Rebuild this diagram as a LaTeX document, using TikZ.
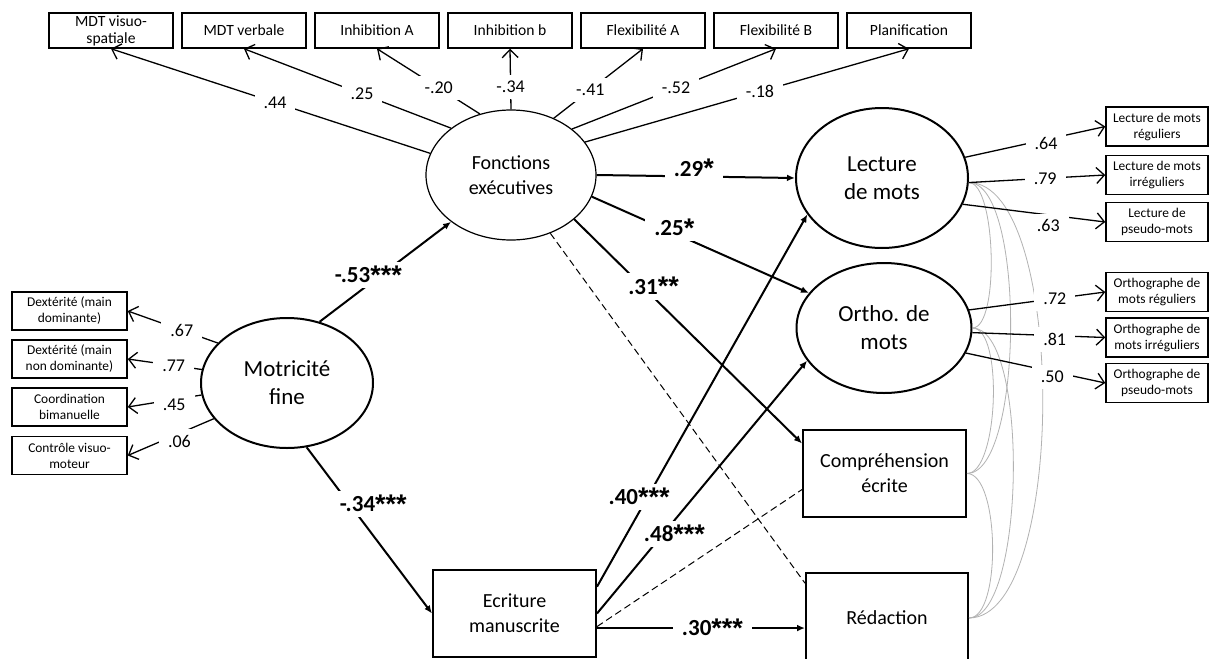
\documentclass[tikz,border=0pt]{standalone}
\usepackage{fontspec}
\setmainfont{Carlito}
\newfontfamily\astfont{Liberation Sans}
\usetikzlibrary{arrows.meta,shapes.geometric}
\newcommand\sigst[1]{\raisebox{-0.15ex}{\astfont\bfseries\fontsize{13.5}{13.5}\selectfont #1}}
\begin{document}
\begin{tikzpicture}[x=0.5pt,y=-0.5pt,
  every node/.style={inner sep=0pt},
  tbox/.style={draw, line width=0.75pt, minimum width=62pt, minimum height=17.5pt, align=center, font=\fontsize{7.8}{8.6}\selectfont},
  sbox/.style={draw, line width=0.75pt, minimum width=57.5pt, minimum height=19pt, align=center, font=\fontsize{6.7}{8}\selectfont},
  rbox/.style={draw, line width=0.75pt, minimum width=51pt, minimum height=19.5pt, align=center, font=\fontsize{6.7}{8}\selectfont},
  bigbox/.style={draw, line width=1pt, align=center, font=\fontsize{10}{12.5}\selectfont},
  lat/.style={ellipse, draw, line width=1pt, align=center, font=\fontsize{11.5}{14}\selectfont},
  thinarrow/.style={line width=0.65pt, -{Straight Barb[length=4pt,width=8pt]}},
  thickarrow/.style={line width=1pt, -{Latex[length=4pt,width=3.4pt]}},
  dashline/.style={line width=0.5pt, dash pattern=on 3.5pt off 2pt},
  corr/.style={line width=0.4pt, black!30},
  lab/.style={fill=white, inner xsep=4.5pt, inner ysep=3pt, font=\fontsize{9}{10}\selectfont},
  blab/.style={fill=white, inner xsep=4.5pt, inner ysep=2pt, font=\bfseries\fontsize{11.5}{13}\selectfont}
]
\useasboundingbox (0,0) rectangle (1211,659);
\fill[white] (0,0) rectangle (1211,659);

% top indicator boxes
\node[tbox] (t1) at (111,30.5) {MDT visuo-\\spatiale};
\node[tbox] (t2) at (244,30.5) {MDT verbale};
\node[tbox] (t3) at (377,30.5) {Inhibition A};
\node[tbox] (t4) at (510,30.5) {Inhibition b};
\node[tbox] (t5) at (643,30.5) {Flexibilité A};
\node[tbox] (t6) at (776,30.5) {Flexibilité B};
\node[tbox] (t7) at (909,30.5) {Planification};

% latent variables
\node[ellipse, draw, line width=0.6pt, minimum width=85pt, minimum height=65pt, align=center, font=\fontsize{10}{12.5}\selectfont] (fe) at (511,175) {Fonctions\\exécutives};
\node[lat, minimum width=86pt, minimum height=65pt] (mf) at (287,383) {Motricité\\fine};
\node[lat, minimum width=86pt, minimum height=70pt] (lm) at (882,178) {Lecture\\de mots};
\node[lat, minimum width=87.5pt, minimum height=65pt] (om) at (884,328) {Ortho. de\\mots};

% observed outcome boxes
\node[bigbox, minimum width=81.5pt, minimum height=43.5pt] (ce) at (884.5,473.5) {Compréhension\\écrite};
\node[bigbox, minimum width=81pt, minimum height=45pt] (rd) at (887,618) {Rédaction};
\node[bigbox, minimum width=81.5pt, minimum height=43.5pt] (ew) at (514.5,613.5) {Ecriture\\manuscrite};

% left indicator boxes
\node[sbox] (l1) at (69.5,311) {Dextérité (main\\dominante)};
\node[sbox] (l2) at (69.5,359) {Dextérité (main\\non dominante)};
\node[sbox] (l3) at (69.5,407) {Coordination\\bimanuelle};
\node[sbox] (l4) at (69.5,455.5) {Contrôle visuo-\\moteur};

% right indicator boxes
\node[rbox] (r1) at (1157,126.5) {Lecture de mots\\réguliers};
\node[rbox] (r2) at (1157,175) {Lecture de mots\\irréguliers};
\node[rbox] (r3) at (1157,222) {Lecture de\\pseudo-mots};
\node[rbox] (o1) at (1157,292) {Orthographe de\\mots réguliers};
\node[rbox] (o2) at (1157,337.5) {Orthographe de\\mots irréguliers};
\node[rbox] (o3) at (1157,383) {Orthographe de\\pseudo-mots};

% correlations (grey arcs)
\draw[corr] (lm.357) to[out=0,in=0,looseness=0.48] (om.east);
\draw[corr] (lm.357) to[out=0,in=0,looseness=0.50] (ce.east);
\draw[corr] (lm.357) to[out=0,in=0,looseness=0.58] (rd.east);
\draw[corr] (om.east) to[out=0,in=0,looseness=0.55] (ce.east);
\draw[corr] (om.east) to[out=0,in=0,looseness=0.50] (rd.east);
\draw[corr] (ce.east) to[out=0,in=0,looseness=0.58] (rd.east);

% executive functions loadings
\draw[thinarrow] (fe.165) -- node[lab,pos=0.486]{.44} (t1.south);
\draw[thinarrow] (fe.142) -- node[lab,pos=0.43]{.25} (t2.south);
\draw[thinarrow] (fe.117) -- node[lab,pos=0.40]{-.20} (t3.south);
\draw[thinarrow] (fe.90) -- node[lab,pos=0.37]{-.34} (t4.south);
\draw[thinarrow] (fe.53) -- node[lab,pos=0.41]{-.41} (t5.south);
\draw[thinarrow] (fe.37) -- node[lab,pos=0.51]{-.52} (t6.south);
\draw[thinarrow] (fe.24) -- node[lab,pos=0.54]{-.18} (t7.south);

% fine motor loadings
\draw[thinarrow] (mf.150) -- node[lab,pos=0.4]{.67} (l1.east);
\draw[thinarrow] (mf.171) -- node[lab,pos=0.38]{.77} (l2.east);
\draw[thinarrow] (mf.188) -- node[lab,pos=0.37,yshift=-2.5pt]{.45} (l3.east);
\draw[thinarrow] (mf.206) -- node[lab,pos=0.4,yshift=-4pt]{.06} (l4.east);

% reading / spelling loadings
\draw[thinarrow] (lm.14.5) -- node[lab,pos=0.577,yshift=-1.75pt]{.64} (r1.west);
\draw[thinarrow] (lm.357) -- node[lab,pos=0.56]{.79} (r2.west);
\draw[thinarrow] (lm.342) -- node[lab,pos=0.6,yshift=-5.5pt]{.63} (r3.west);
\draw[thinarrow] (om.12) -- node[lab,pos=0.63]{.72} (o1.west);
\draw[thinarrow] (om.357) -- node[lab,pos=0.62,yshift=-2pt]{.81} (o2.west);
\draw[thinarrow] (om.343) -- node[lab,pos=0.62,yshift=-2.75pt]{.50} (o3.west);

% structural paths
\draw[dashline] (fe.304) -- (rd.157);
\draw[dashline] (ew.351) -- (ce.191);
\draw[thickarrow] (mf.62) -- node[blab,pos=0.47,xshift=-6.5pt]{-.53\sigst{***}} (fe.218);
\draw[thickarrow] (mf.287) -- node[blab,pos=0.34,xshift=12pt]{-.34\sigst{***}} (ew.west);
\draw[thickarrow] (fe.east) -- node[blab,pos=0.49,yshift=4pt]{.29\sigst{*}} (lm.west);
\draw[thickarrow] (fe.345) -- node[blab,pos=0.38,yshift=2.75pt]{.25\sigst{*}} (om.155);
\draw[thickarrow] (fe.325) -- node[blab,pos=0.30,xshift=5.5pt]{.31\sigst{**}} (ce.160);
\draw[thickarrow] (ew.18) -- node[blab,pos=0.224,xshift=-2.5pt,yshift=3.25pt]{.40\sigst{***}} (lm.206);
\draw[thickarrow] (ew.east) -- node[blab,pos=0.314,xshift=5.75pt]{.48\sigst{***}} (om.203);
\draw[thickarrow] (ew.350) -- node[blab,pos=0.555]{.30\sigst{***}} (ew.350 -| rd.west);
\end{tikzpicture}
\end{document}
